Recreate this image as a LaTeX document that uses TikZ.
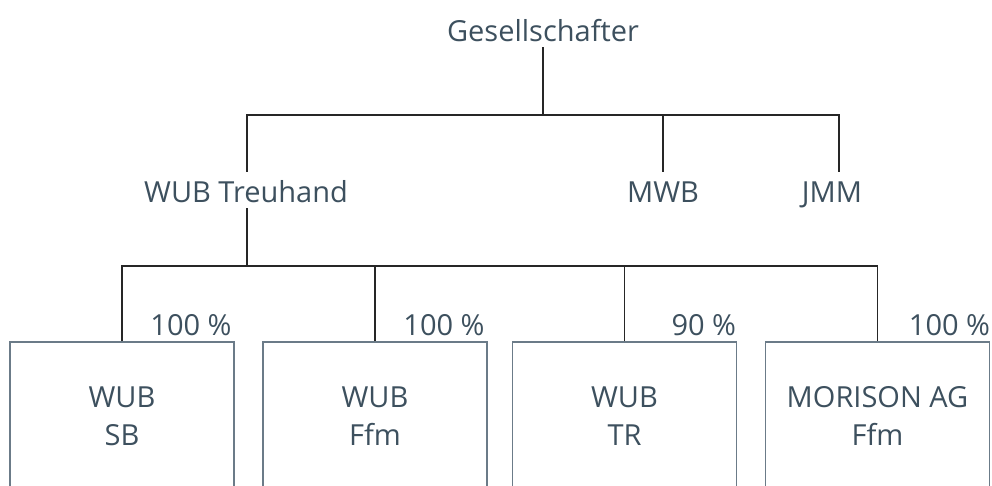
\documentclass[tikz,border=0pt]{standalone}
\usepackage{fontspec}
\setmainfont{Open Sans}
\usepackage{tikz}
\usetikzlibrary{calc}

\definecolor{inktext}{HTML}{3D505E}
\definecolor{boxline}{HTML}{6B7B88}

\tikzset{
  lbl/.style={inner xsep=0pt, inner ysep=6pt, text height=24pt, text depth=0pt,
    text=inktext, font=\fontsize{29}{38}\selectfont},
  firm/.style={draw=boxline, line width=1.6pt, minimum width=224pt, minimum height=148pt,
    align=center, text=inktext, font=\fontsize{29}{38}\selectfont},
  pct/.style={inner sep=0pt, text=inktext, font=\fontsize{29}{38}\selectfont},
  link/.style={draw=black!85, line width=1.4pt}
}

\begin{document}
\begin{tikzpicture}[x=1pt, y=-1pt]
\useasboundingbox (0,0) rectangle (992,485);
\clip (0,0) rectangle (992,485);

% owners
\node[lbl, anchor=base] (gs) at (543,41) {Gesellschafter};
\node[lbl, anchor=base] (wubt) at (246,202) {WUB Treuhand};
\node[lbl, anchor=base] (mwb) at (663,202) {MWB};
\node[lbl, anchor=base] (jmm) at (832,202) {JMM};
\coordinate (hub) at (543,115);

\draw[link] (gs.south) -- (hub);
\draw[link] ([xshift=1pt]wubt.north) |- ([xshift=7pt]jmm.north |- hub) -- ([xshift=7pt]jmm.north);
\draw[link] (mwb.north) -- (mwb.north |- hub);

% companies
\node[firm] (sb)  at (122,416)   {WUB\\SB};
\node[firm] (ffm) at (375,416)   {WUB\\Ffm};
\node[firm] (tr)  at (624.5,416) {WUB\\TR};
\node[firm] (mor) at (877.5,416) {MORISON AG\\Ffm};
\coordinate (bus) at (247,266);

\draw[link] ([xshift=1pt]wubt.south) -- (bus);
\draw[link] (sb.north) |- (mor.north |- bus) -- (mor.north);
\foreach \firmname in {ffm,tr}
  \draw[link] (\firmname.north) -- (\firmname.north |- bus);

% shares
\node[pct, anchor=base east] at ([xshift=-3pt, yshift=6pt]sb.north east)  {100 \%};
\node[pct, anchor=base east] at ([xshift=-3pt, yshift=6pt]ffm.north east) {100 \%};
\node[pct, anchor=base east] at ([xshift=-1pt, yshift=6pt]tr.north east)  {90 \%};
\node[pct, anchor=base east] at ([xshift=0pt, yshift=6pt]mor.north east)  {100 \%};
\end{tikzpicture}
\end{document}
